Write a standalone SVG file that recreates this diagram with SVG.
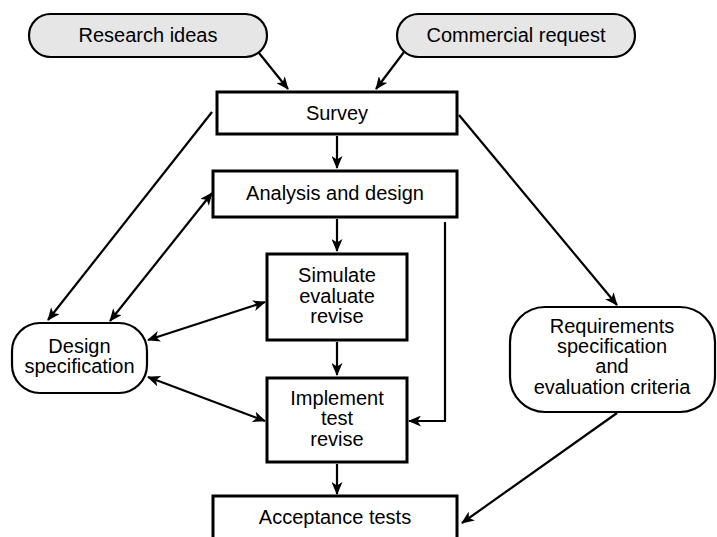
<svg xmlns="http://www.w3.org/2000/svg" width="717" height="537" viewBox="0 0 717 537">
<style>
text{font-family:"Liberation Sans",Arial,sans-serif;font-size:20px;fill:#000;text-anchor:middle}
.pill{fill:#e6e6e6;stroke:#000;stroke-width:2.2}
.box{fill:#fff;stroke:#000;stroke-width:3}
.rbox{fill:#fff;stroke:#000;stroke-width:2.2}
.c{fill:none;stroke:#000;stroke-width:2.2}
</style>
<defs>
<marker id="ah" viewBox="0 0 13 11" refX="12" refY="5.5" markerWidth="13" markerHeight="11" markerUnits="userSpaceOnUse" orient="auto-start-reverse">
<path d="M0,0 L13,5.5 L0,11 L3.5,5.5 z" fill="#000"/>
</marker>
</defs>
<rect width="717" height="537" fill="#fff"/>
<g id="research"><rect class="pill" x="29" y="14" width="238" height="43" rx="21.5"/><text x="148" y="42">Research ideas</text></g>
<g id="commercial"><rect class="pill" x="397" y="14" width="238" height="43" rx="21.5"/><text x="516" y="42">Commercial request</text></g>
<g id="survey"><rect class="box" x="217" y="92" width="240" height="42"/><text x="337" y="120">Survey</text></g>
<g id="analysis"><rect class="box" x="213" y="171" width="244" height="46"/><text x="335" y="200">Analysis and design</text></g>
<g id="simulate"><rect class="box" x="267" y="254" width="140" height="86"/><text x="337" y="282">Simulate</text><text x="337" y="303">evaluate</text><text x="337" y="323">revise</text></g>
<g id="implement"><rect class="box" x="267" y="378" width="140" height="84"/><text x="337" y="405">Implement</text><text x="337" y="425">test</text><text x="337" y="446">revise</text></g>
<g id="acceptance"><rect class="box" x="213" y="496" width="244" height="50"/><text x="335" y="524">Acceptance tests</text></g>
<g id="designspec"><rect class="rbox" x="12" y="323" width="135" height="70" rx="28"/><text x="79.5" y="353">Design</text><text x="79.5" y="373">specification</text></g>
<g id="requirements"><rect class="rbox" x="510" y="307" width="205" height="105" rx="35"/><text x="612" y="333">Requirements</text><text x="612" y="353">specification</text><text x="612" y="373">and</text><text x="612" y="394">evaluation criteria</text></g>
<g id="connectors">
<line class="c" x1="259" y1="53" x2="288" y2="89" marker-end="url(#ah)"/>
<line class="c" x1="404" y1="52" x2="376" y2="89" marker-end="url(#ah)"/>
<line class="c" x1="337" y1="136" x2="337" y2="168" marker-end="url(#ah)"/>
<line class="c" x1="212" y1="112" x2="48" y2="320" marker-end="url(#ah)"/>
<line class="c" x1="459" y1="115" x2="617" y2="305" marker-end="url(#ah)"/>
<line class="c" x1="337" y1="219" x2="337" y2="251" marker-end="url(#ah)"/>
<line class="c" x1="212" y1="193" x2="110" y2="321" marker-start="url(#ah)" marker-end="url(#ah)"/>
<line class="c" x1="148" y1="340" x2="265" y2="302" marker-start="url(#ah)" marker-end="url(#ah)"/>
<line class="c" x1="337" y1="342" x2="337" y2="375" marker-end="url(#ah)"/>
<line class="c" x1="148" y1="377" x2="265" y2="421" marker-start="url(#ah)" marker-end="url(#ah)"/>
<polyline class="c" points="445,222 445,421 409,421" marker-end="url(#ah)"/>
<line class="c" x1="337" y1="464" x2="337" y2="494" marker-end="url(#ah)"/>
<line class="c" x1="617" y1="413" x2="462" y2="523" marker-end="url(#ah)"/>
</g>
</svg>
